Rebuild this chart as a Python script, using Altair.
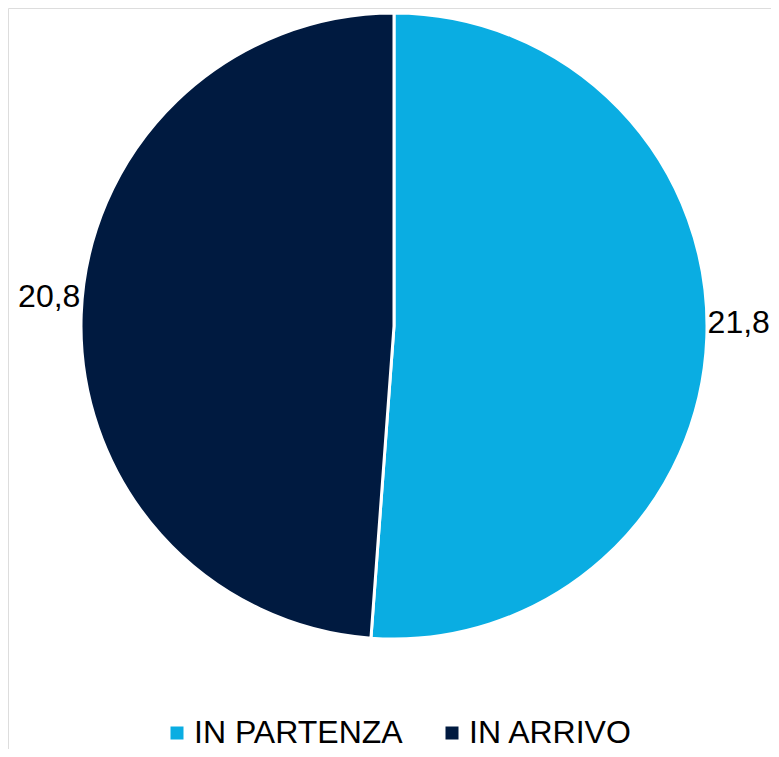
import altair as alt
import pandas as pd

categories = ["IN PARTENZA", "IN ARRIVO"]
values = [21.8, 20.8]
colors = ["#0AADE2", "#001A40"]

labels = [f"{v:.1f}".replace(".", ",") for v in values]
df = pd.DataFrame({"cat": categories, "val": values, "lab": labels, "ord": [0, 1]})

CX, CY, R = 386, 318, 313

base = alt.Chart(df).encode(
    theta=alt.Theta("val:Q", stack=True),
    order=alt.Order("ord:Q"),
)

pie = base.mark_arc(radius=R, stroke="white", strokeWidth=3).encode(
    x=alt.value(CX),
    y=alt.value(CY),
    color=alt.Color(
        "cat:N",
        scale=alt.Scale(domain=categories, range=colors),
        sort=categories,
        legend=alt.Legend(
            title=None,
            orient="none",
            legendX=153,
            legendY=709,
            padding=0,
            direction="horizontal",
            symbolType="square",
            symbolSize=169,
            symbolStrokeWidth=0,
            labelFont="Liberation Sans",
            labelFontSize=32,
            labelColor="#000000",
            labelLimit=500,
            columnPadding=33,
            symbolOffset=0,
            labelOffset=1,
        ),
    ),
)

text = base.mark_text(radius=345, dy=-16, font="Liberation Sans", fontSize=32, color="#000000").encode(
    x=alt.value(CX),
    y=alt.value(CY),
    text="lab:N",
)

chart = (
    alt.layer(pie, text)
    .properties(width=763, height=741, autosize=alt.AutoSizeParams(type="none"), padding=0)
    .configure_view(stroke=None, strokeWidth=0)
    .configure(background="white")
)

chart.save("out.html", embed_options={"renderer": "svg", "actions": False})
